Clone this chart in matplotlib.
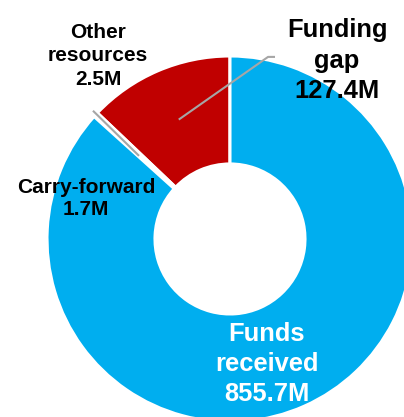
import matplotlib
matplotlib.use("Agg")
import matplotlib.pyplot as plt
import numpy as np

categories = ["Funding gap", "Other resources", "Carry-forward", "Funds received"]
values = [127.4, 2.5, 1.7, 855.7]
labels = ["Funding\ngap\n127.4M", "Other\nresources\n2.5M", "Carry-forward\n1.7M", "Funds\nreceived\n855.7M"]

colors = ["#C00000", "#FFFFFF", "#FFFFFF", "#00AEEF"]

plt.rcParams['font.family'] = ['Liberation Sans', 'DejaVu Sans']

fig = plt.figure(figsize=(4.04, 4.17), dpi=100)
ax = fig.add_axes([0, 0, 1, 1])
wedges, _ = ax.pie(values, colors=colors, startangle=90, counterclock=True,
                   radius=1.0, wedgeprops=dict(width=0.59, edgecolor="white", linewidth=2.2))
ax.set_xlim(-1.257, 0.951)
ax.set_ylim(-0.973, 1.306)
ax.set_aspect('auto')
ax.axis('off')

gray = "#A6A6A6"
# Funding gap leader
w = wedges[0]
mid = np.deg2rad((w.theta1 + w.theta2) / 2)
x0, y0 = 0.71 * np.cos(mid), 0.71 * np.sin(mid)
ax.plot([x0, 0.208, 0.246], [y0, 0.995, 0.995], color=gray, lw=1.5, solid_capstyle='butt')
# Other resources leader
w = wedges[1]
mid = np.deg2rad((w.theta1 + w.theta2) / 2)
ax.plot([0.70 * np.cos(mid) + 0.01, 1.02 * np.cos(mid)], [0.70 * np.sin(mid) - 0.02, 1.02 * np.sin(mid)],
        color=gray, lw=1.5)

ax.text(0.585, 0.975, labels[0], ha='center', va='center', fontsize=18.4, fontweight='bold',
        color='black', linespacing=1.33)
ax.text(-0.721, 1.0, labels[1], ha='center', va='center', fontsize=15, fontweight='bold',
        color='black', linespacing=1.3)
ax.text(-0.787, 0.221, labels[2], ha='center', va='center', fontsize=15, fontweight='bold',
        color='black', linespacing=1.25)
ax.text(0.202, -0.683, labels[3], ha='center', va='center', fontsize=18.4, fontweight='bold',
        color='white', linespacing=1.33)

fig.savefig("out.png", dpi=100)
